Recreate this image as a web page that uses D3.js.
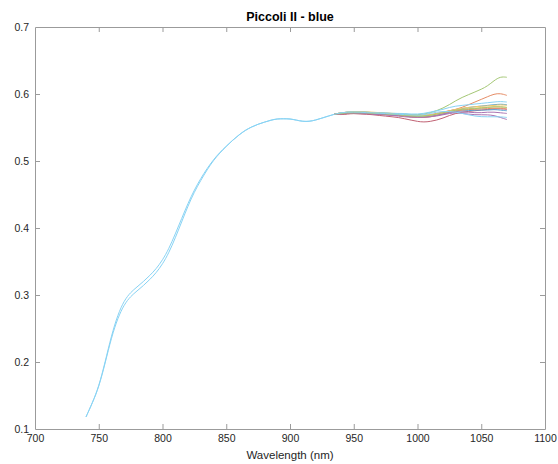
<!DOCTYPE html>
<html>
<head>
<meta charset="utf-8">
<script src="https://cdn.jsdelivr.net/npm/d3@7"></script>
<style>
  html, body { margin: 0; padding: 0; background: #fff; }
  svg { display: block; font-family: "Liberation Sans", Arial, Helvetica, sans-serif; }
</style>
</head>
<body>
<svg id="chart" width="558" height="464"></svg>
<script>
// Reflectance spectra, sampled every 5 nm from 740 to 1070 nm.
const wavelengths = d3.range(740, 1071, 5);

// Shared rising section (740–935 nm), two slightly different shapes.
const riseA = [
  0.118, 0.139, 0.163, 0.200, 0.240, 0.271, 0.292, 0.304, 0.312, 0.320,
  0.329, 0.339, 0.352, 0.369, 0.391, 0.414, 0.437, 0.457, 0.474, 0.489,
  0.502, 0.513, 0.522, 0.531, 0.539, 0.546, 0.551, 0.555, 0.558, 0.561,
  0.563, 0.563, 0.563, 0.561, 0.559, 0.559, 0.561, 0.564, 0.567, 0.570
];
const riseB = [
  0.118, 0.139, 0.162, 0.198, 0.237, 0.266, 0.286, 0.298, 0.306, 0.314,
  0.323, 0.333, 0.346, 0.363, 0.385, 0.409, 0.433, 0.454, 0.471, 0.487,
  0.501, 0.512, 0.522, 0.531, 0.539, 0.546, 0.551, 0.555, 0.558, 0.561,
  0.563, 0.563, 0.563, 0.561, 0.559, 0.559, 0.561, 0.564, 0.567, 0.570
];

// Per-measurement tails (940–1070 nm).
const tail01 = [0.571,0.572,0.573,0.572,0.572,0.571,0.571,0.571,0.570,0.570,0.569,0.568,0.567,0.567,0.568,0.570,0.572,0.575,0.577,0.578,0.580,0.581,0.582,0.583,0.584,0.585,0.584];
const tail02 = [0.572,0.573,0.573,0.573,0.573,0.572,0.572,0.571,0.571,0.570,0.569,0.568,0.568,0.568,0.569,0.571,0.573,0.575,0.577,0.580,0.584,0.588,0.592,0.596,0.600,0.601,0.598];
const tail03 = [0.572,0.573,0.574,0.574,0.573,0.573,0.572,0.572,0.571,0.571,0.570,0.569,0.568,0.568,0.569,0.570,0.572,0.574,0.576,0.577,0.578,0.579,0.580,0.580,0.581,0.581,0.580];
const tail04 = [0.570,0.571,0.571,0.571,0.570,0.570,0.569,0.569,0.568,0.567,0.566,0.565,0.565,0.565,0.566,0.567,0.569,0.571,0.572,0.571,0.570,0.569,0.569,0.569,0.568,0.565,0.562];
const tail05 = [0.572,0.573,0.573,0.573,0.573,0.572,0.572,0.571,0.571,0.570,0.570,0.569,0.569,0.570,0.572,0.575,0.579,0.584,0.590,0.595,0.599,0.603,0.607,0.612,0.620,0.626,0.625];
const tail06 = [0.572,0.573,0.573,0.573,0.573,0.572,0.572,0.572,0.571,0.571,0.571,0.570,0.570,0.571,0.573,0.575,0.577,0.580,0.582,0.583,0.584,0.585,0.586,0.587,0.588,0.589,0.588];
const tail07 = [0.569,0.570,0.571,0.570,0.570,0.569,0.568,0.567,0.566,0.565,0.563,0.561,0.559,0.558,0.559,0.561,0.564,0.568,0.571,0.573,0.574,0.575,0.576,0.577,0.578,0.578,0.577];
const tail08 = [0.571,0.572,0.572,0.572,0.571,0.571,0.570,0.570,0.569,0.569,0.568,0.567,0.566,0.566,0.567,0.568,0.570,0.573,0.574,0.575,0.575,0.576,0.576,0.576,0.577,0.576,0.575];
const tail09 = [0.570,0.571,0.572,0.572,0.571,0.571,0.570,0.570,0.569,0.568,0.567,0.566,0.565,0.565,0.566,0.568,0.571,0.573,0.575,0.576,0.577,0.577,0.578,0.578,0.579,0.579,0.578];
const tail10 = [0.571,0.572,0.573,0.573,0.572,0.572,0.571,0.571,0.570,0.569,0.568,0.568,0.567,0.567,0.568,0.570,0.572,0.575,0.577,0.579,0.580,0.581,0.582,0.582,0.583,0.584,0.583];
const tail11 = [0.570,0.571,0.572,0.571,0.571,0.570,0.570,0.569,0.568,0.568,0.567,0.566,0.565,0.565,0.566,0.568,0.570,0.572,0.573,0.573,0.573,0.572,0.572,0.573,0.573,0.572,0.571];
const tail12 = [0.571,0.572,0.572,0.572,0.572,0.571,0.571,0.570,0.570,0.569,0.568,0.567,0.567,0.567,0.568,0.570,0.572,0.574,0.576,0.577,0.578,0.578,0.579,0.580,0.581,0.581,0.580];
const tail13 = [0.572,0.573,0.573,0.573,0.572,0.572,0.571,0.571,0.570,0.570,0.569,0.569,0.568,0.569,0.571,0.573,0.574,0.574,0.573,0.571,0.569,0.567,0.566,0.566,0.566,0.566,0.565];

const rises = [riseA, riseA, riseA, riseA, riseA, riseA, riseB, riseB, riseB, riseB, riseB, riseB, riseB];
const tails = [tail01, tail02, tail03, tail04, tail05, tail06, tail07, tail08, tail09, tail10, tail11, tail12, tail13];

const xTicks = [700, 750, 800, 850, 900, 950, 1000, 1050, 1100];
const yTicks = [0.1, 0.2, 0.3, 0.4, 0.5, 0.6, 0.7];
// Default line colour order, softened toward white for thin strokes
const palette = ["#0072BD", "#D95319", "#EDB120", "#7E2F8E", "#77AC30", "#4DBEEE", "#A2142F"]
  .map(c => d3.interpolateRgb(c, "#ffffff")(0.33));

// Each spectrum = its rising section followed by its own tail.
// A shared rising section is drawn only by the last spectrum that uses it,
// since later identical strokes hide the earlier ones there anyway.
const joinIdx = riseA.length - 1;
const spectra = tails.map((t, i) => {
  const values = rises[i].concat(t);
  const lastUser = rises.lastIndexOf(rises[i]) === i;
  const start = lastUser ? 0 : joinIdx;
  return {
    color: palette[i % palette.length],
    points: values.map((v, k) => [wavelengths[k], v]).slice(start)
  };
});

const svg = d3.select("#chart");
const m = { left: 35, top: 27, right: 13, bottom: 35 };
const W = 558 - m.left - m.right;
const H = 464 - m.top - m.bottom;

const x = d3.scaleLinear().domain([700, 1100]).range([0, W]);
const y = d3.scaleLinear().domain([0.1, 0.7]).range([H, 0]);

const g = svg.append("g").attr("transform", `translate(${m.left},${m.top})`);

const line = d3.line()
  .x(d => x(d[0]))
  .y(d => y(d[1]))
  .curve(d3.curveBasis);

g.append("g").selectAll("path")
  .data(spectra)
  .join("path")
  .attr("d", d => line(d.points))
  .attr("fill", "none")
  .attr("stroke", d => d.color)
  .attr("stroke-width", 1);

// Axes with inward ticks on all four sides
const axisColor = "#9b9b9b";
const tl = 5;
const styleAxis = sel => {
  sel.select(".domain").attr("stroke", axisColor);
  sel.selectAll(".tick line").attr("stroke", axisColor);
};

g.append("g").attr("transform", `translate(0,${H})`)
  .call(d3.axisBottom(x).tickValues(xTicks).tickSize(-tl).tickSizeOuter(0).tickPadding(6).tickFormat(d3.format("d")))
  .call(styleAxis)
  .call(a => a.selectAll("text").attr("fill", "#262626").attr("font-size", 10.5).attr("font-family", null));

g.append("g")
  .call(d3.axisTop(x).tickValues(xTicks).tickSize(-tl).tickSizeOuter(0).tickFormat(""))
  .call(styleAxis);

g.append("g")
  .call(d3.axisLeft(y).tickValues(yTicks).tickSize(-tl).tickSizeOuter(0).tickPadding(6).tickFormat(d3.format(".1f")))
  .call(styleAxis)
  .call(a => a.selectAll("text").attr("fill", "#262626").attr("font-size", 10.5).attr("font-family", null));

g.append("g").attr("transform", `translate(${W},0)`)
  .call(d3.axisRight(y).tickValues(yTicks).tickSize(-tl).tickSizeOuter(0).tickFormat(""))
  .call(styleAxis);

// Remove tick marks that sit on the box corners
g.selectAll(".tick").filter(d => d === 700 || d === 1100 || d === 0.1 || d === 0.7).select("line").remove();

// Labels
svg.append("text")
  .attr("x", m.left + W / 2).attr("y", 21)
  .attr("text-anchor", "middle")
  .attr("font-size", 12.5).attr("font-weight", "bold").attr("fill", "#000")
  .text("Piccoli II - blue");

svg.append("text")
  .attr("x", m.left + W / 2).attr("y", 459)
  .attr("text-anchor", "middle")
  .attr("font-size", 11.5).attr("fill", "#262626")
  .text("Wavelength (nm)");
</script>
</body>
</html>
